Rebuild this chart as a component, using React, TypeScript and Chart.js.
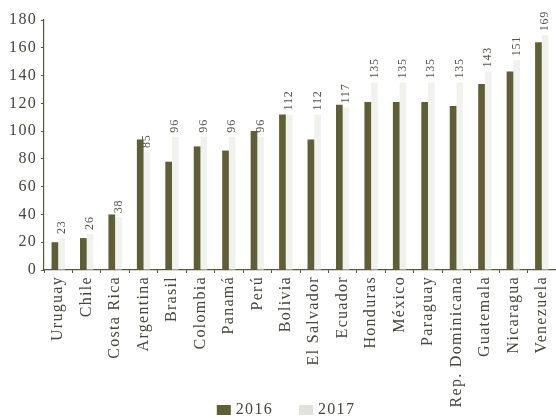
import React, { useEffect, useRef } from "react";
import { Chart, registerables } from "chart.js";

Chart.register(...registerables);

const categories = [
  "Uruguay", "Chile", "Costa Rica", "Argentina", "Brasil", "Colombia", "Panamá", "Perú",
  "Bolivia", "El Salvador", "Ecuador", "Honduras", "México", "Paraguay", "Rep. Dominicana",
  "Guatemala", "Nicaragua", "Venezuela",
];
const seriesNames = ["2016", "2017"];
const values2016 = [20, 23, 40, 94, 78, 89, 86, 100, 112, 94, 119, 121, 121, 121, 118, 134, 143, 164];
const values2017 = [23, 26, 38, 85, 96, 96, 96, 96, 112, 112, 117, 135, 135, 135, 135, 143, 151, 169];
const yMin = 0;
const yMax = 180;
const yStep = 20;

const FONT = '"Liberation Serif", "Times New Roman", serif';
const TEXT = "#46463e";
const AXIS = "#55553a";
const COLOR_2016 = "#5f5e37";
const COLOR_2017 = "#f1f1ed";

const spacingPlugin = {
  id: "spacing",
  beforeUpdate(chart: any) { chart.ctx.letterSpacing = "1.3px"; },
  beforeLayout(chart: any) { chart.ctx.letterSpacing = "1.3px"; },
  beforeDraw(chart: any) { chart.ctx.letterSpacing = "1.3px"; },
};

const valueLabelPlugin = {
  id: "valueLabels",
  afterDatasetsDraw(chart: any) {
    const ctx = chart.ctx;
    const meta = chart.getDatasetMeta(1);
    ctx.save();
    ctx.letterSpacing = "0.8px";
    ctx.font = `12px ${FONT}`;
    ctx.fillStyle = "#55554c";
    ctx.textAlign = "left";
    ctx.textBaseline = "middle";
    meta.data.forEach((bar: any, i: number) => {
      ctx.save();
      ctx.translate(bar.x, bar.y - 4);
      ctx.rotate(-Math.PI / 2);
      ctx.fillText(String(values2017[i]), 0, 0);
      ctx.restore();
    });
    ctx.restore();
  },
};

const legendPlugin = {
  id: "customLegend",
  afterDraw(chart: any) {
    const ctx = chart.ctx;
    ctx.save();
    ctx.letterSpacing = "1.3px";
    ctx.font = `16px ${FONT}`;
    ctx.textBaseline = "middle";
    ctx.textAlign = "left";
    const boxW = 14, boxH = 10, gapBox = 5, gapItem = 26;
    const colors = [COLOR_2016, "#e2e2dc"];
    const widths = seriesNames.map((n) => boxW + gapBox + ctx.measureText(n).width);
    const total = widths.reduce((a, b) => a + b, 0) + gapItem * (seriesNames.length - 1);
    let x = chart.width / 2 + 8 - total / 2;
    const cy = chart.height - 7;
    seriesNames.forEach((n, i) => {
      ctx.fillStyle = colors[i];
      ctx.fillRect(x, cy - boxH / 2, boxW, boxH);
      ctx.fillStyle = TEXT;
      ctx.fillText(n, x + boxW + gapBox, cy);
      x += widths[i] + gapItem;
    });
    ctx.restore();
  },
};

export default function App() {
  const ref = useRef<HTMLCanvasElement>(null);
  useEffect(() => {
    document.body.style.margin = "0";
    const canvas = ref.current!;
    const chart = new Chart(canvas, {
      type: "bar",
      data: {
        labels: categories,
        datasets: [
          { label: seriesNames[0], data: values2016, backgroundColor: COLOR_2016, categoryPercentage: 0.47, barPercentage: 1 },
          { label: seriesNames[1], data: values2017, backgroundColor: COLOR_2017, categoryPercentage: 0.47, barPercentage: 1 },
        ],
      },
      options: {
        responsive: false,
        animation: false,
        layout: { padding: { top: 20, right: 0, left: 0, bottom: 0 } },
        plugins: { legend: { display: false }, tooltip: { enabled: false } },
        scales: {
          x: {
            offset: true,
            border: { display: true, color: AXIS, width: 1.2 },
            grid: { display: true, drawOnChartArea: false, offset: true, tickLength: 3, color: AXIS },
            ticks: {
              autoSkip: false, maxRotation: 90, minRotation: 90, padding: 3,
              color: TEXT, font: { family: FONT, size: 16 },
            },
            afterFit(scale: any) { scale.height = 147; scale.paddingLeft = 0; scale.paddingRight = 0; },
          },
          y: {
            min: yMin, max: yMax,
            border: { display: true, color: AXIS, width: 1.2 },
            grid: { display: true, drawOnChartArea: false, tickLength: 3, color: AXIS },
            ticks: { stepSize: yStep, padding: 4, color: TEXT, font: { family: FONT, size: 16 } },
            afterFit(scale: any) { scale.width = 44; scale.paddingTop = 0; scale.paddingBottom = 0; },
          },
        },
      },
      plugins: [spacingPlugin, valueLabelPlugin, legendPlugin],
    });
    return () => chart.destroy();
  }, []);
  return (
    <div style={{ position: "fixed", left: 0, top: 0, width: 556, height: 417, background: "#fff" }}>
      <canvas ref={ref} width={556} height={417} style={{ display: "block" }} />
    </div>
  );
}
